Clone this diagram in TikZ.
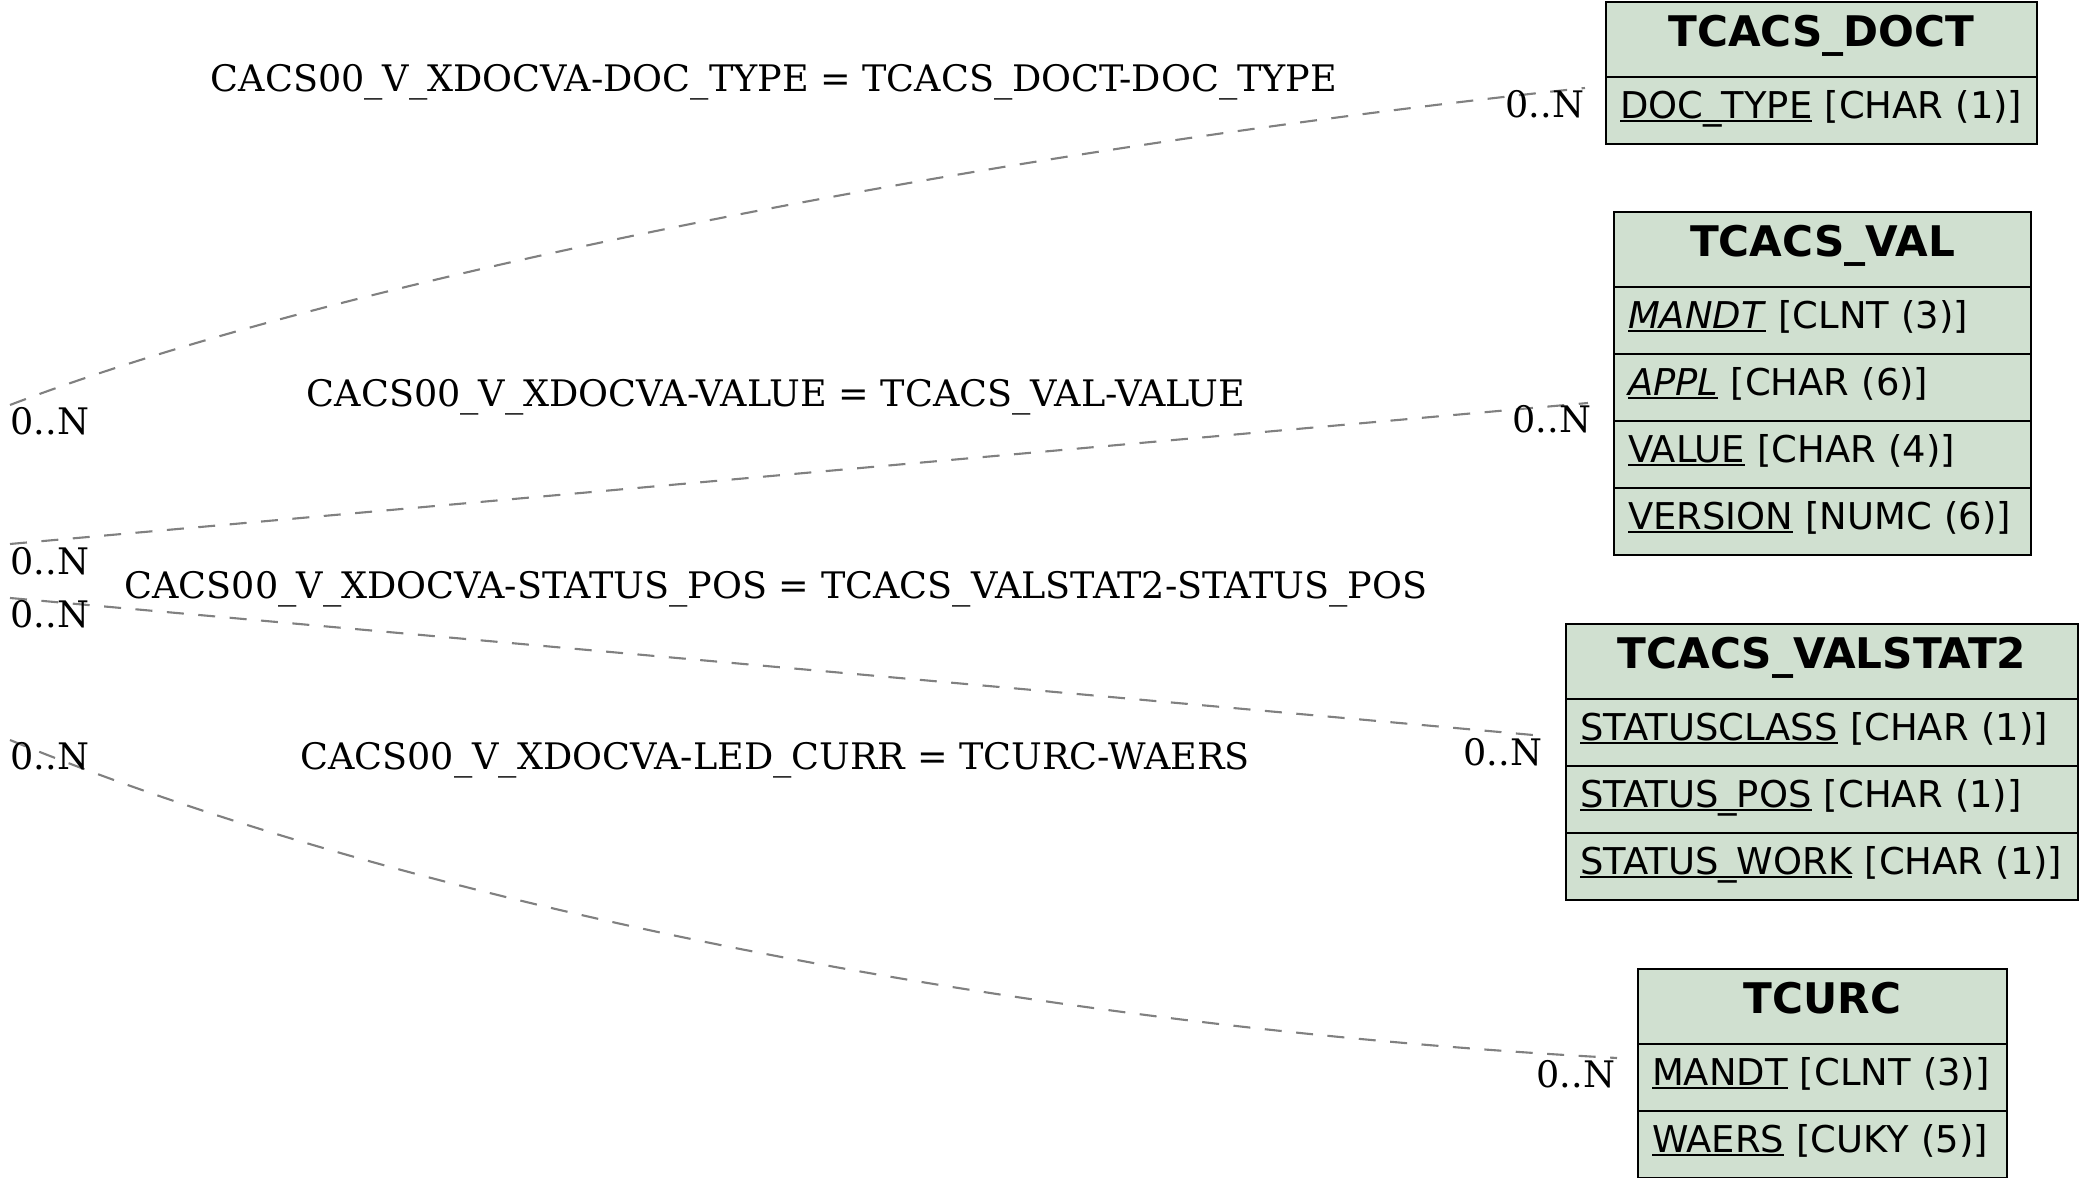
\documentclass[tikz,border=0pt]{standalone}
\usepackage{fontspec}
\setmainfont{DejaVu Serif}
\newfontfamily\tblfont{DejaVu Sans}
\usetikzlibrary{positioning}

\definecolor{tblfill}{RGB}{208,224,208}
\definecolor{relgray}{RGB}{128,128,128}

\newcommand\headfont{\tblfont\bfseries\fontsize{12}{14}\selectfont}
\newcommand\fieldfont{\tblfont\fontsize{10.5}{12.5}\selectfont}
\newcommand\labelfont{\fontsize{10.4}{12.5}\selectfont}
\newlength\keylen
\newcommand\keyul[1]{\settowidth\keylen{#1}\rlap{\rule[-0.4mm]{\keylen}{0.2mm}}#1}

\begin{document}
\begin{tikzpicture}[x=0.1mm,y=-0.1mm,
  tblhead/.style={draw,line width=0.8pt,fill=tblfill,outer sep=0pt,inner sep=0pt,minimum width=#1,minimum height=7.5mm,text height=2.9mm,text depth=1.42mm,font=\headfont},
  tblrow/.style={draw,line width=0.8pt,fill=tblfill,outer sep=0pt,inner xsep=1.4mm,inner ysep=0pt,text width=#1,align=left,minimum height=6.7mm,text height=2.8mm,text depth=1.2mm,font=\fieldfont},
  rel/.style={draw=relgray,line width=0.6pt,dash pattern=on 1.7mm off 1.45mm},
  rellabel/.style={font=\labelfont,anchor=base,inner sep=0pt},
  card/.style={font=\labelfont,anchor=base west,inner sep=0pt}]
\useasboundingbox (0,0) rectangle (2079,1178);

\node[tblhead=43.1mm,anchor=north west] (doct-head) at (1606,2) {TCACS\_DOCT};
\node[tblrow=40.3mm,below=0pt of doct-head] (doct-doctype) {\keyul{DOC\_TYPE} [CHAR (1)]};

\node[tblhead=41.7mm,anchor=north west] (val-head) at (1614,212) {TCACS\_VAL};
\node[tblrow=38.9mm,below=0pt of val-head] (val-mandt) {\keyul{\textit{MANDT}} [CLNT (3)]};
\node[tblrow=38.9mm,below=0pt of val-mandt] (val-appl) {\keyul{\textit{APPL}} [CHAR (6)]};
\node[tblrow=38.9mm,below=0pt of val-appl] (val-value) {\keyul{VALUE} [CHAR (4)]};
\node[tblrow=38.9mm,below=0pt of val-value] (val-version) {\keyul{VERSION} [NUMC (6)]};

\node[tblhead=51.2mm,anchor=north west] (valstat2-head) at (1566,624) {TCACS\_VALSTAT2};
\node[tblrow=48.4mm,below=0pt of valstat2-head] (valstat2-class) {\keyul{STATUSCLASS} [CHAR (1)]};
\node[tblrow=48.4mm,below=0pt of valstat2-class] (valstat2-pos) {\keyul{STATUS\_POS} [CHAR (1)]};
\node[tblrow=48.4mm,below=0pt of valstat2-pos] (valstat2-work) {\keyul{STATUS\_WORK} [CHAR (1)]};

\node[tblhead=36.9mm,anchor=north west] (tcurc-head) at (1638,969) {TCURC};
\node[tblrow=34.1mm,below=0pt of tcurc-head] (tcurc-mandt) {\keyul{MANDT} [CLNT (3)]};
\node[tblrow=34.1mm,below=0pt of tcurc-mandt] (tcurc-waers) {\keyul{WAERS} [CUKY (5)]};

\coordinate (xdoc-doct) at (10,405);
\coordinate (xdoc-val) at (10,544);
\coordinate (xdoc-valstat2) at (10,598);
\coordinate (xdoc-tcurc) at (10,740);
\coordinate (in-doct) at (1585,88);
\coordinate (in-val) at (1588,403);
\coordinate (in-valstat2) at (1544,736);
\coordinate (in-tcurc) at (1617,1058);

\draw[rel] (xdoc-doct) .. controls (350,275) and (1000,150) .. (in-doct);
\draw[rel] (xdoc-val) -- (in-val);
\draw[rel] (xdoc-valstat2) -- (in-valstat2);
\draw[rel] (xdoc-tcurc) .. controls (400,900) and (1000,1025) .. (in-tcurc);

\node[rellabel] (lbl-doct) at (774,92) {CACS00\_V\_XDOCVA-DOC\_TYPE = TCACS\_DOCT-DOC\_TYPE};
\node[rellabel] (lbl-val) at (776,407) {CACS00\_V\_XDOCVA-VALUE = TCACS\_VAL-VALUE};
\node[rellabel] (lbl-valstat2) at (776,599) {CACS00\_V\_XDOCVA-STATUS\_POS = TCACS\_VALSTAT2-STATUS\_POS};
\node[rellabel] (lbl-tcurc) at (775,770) {CACS00\_V\_XDOCVA-LED\_CURR = TCURC-WAERS};

\node[card] (card-doct-l) at (10,435) {0..N};
\node[card] (card-val-l) at (10,575) {0..N};
\node[card] (card-valstat2-l) at (10,628) {0..N};
\node[card] (card-tcurc-l) at (10,770) {0..N};
\node[card] (card-doct-r) at (1505,118) {0..N};
\node[card] (card-val-r) at (1512,433) {0..N};
\node[card] (card-valstat2-r) at (1463,766) {0..N};
\node[card] (card-tcurc-r) at (1536,1088) {0..N};
\end{tikzpicture}
\end{document}
